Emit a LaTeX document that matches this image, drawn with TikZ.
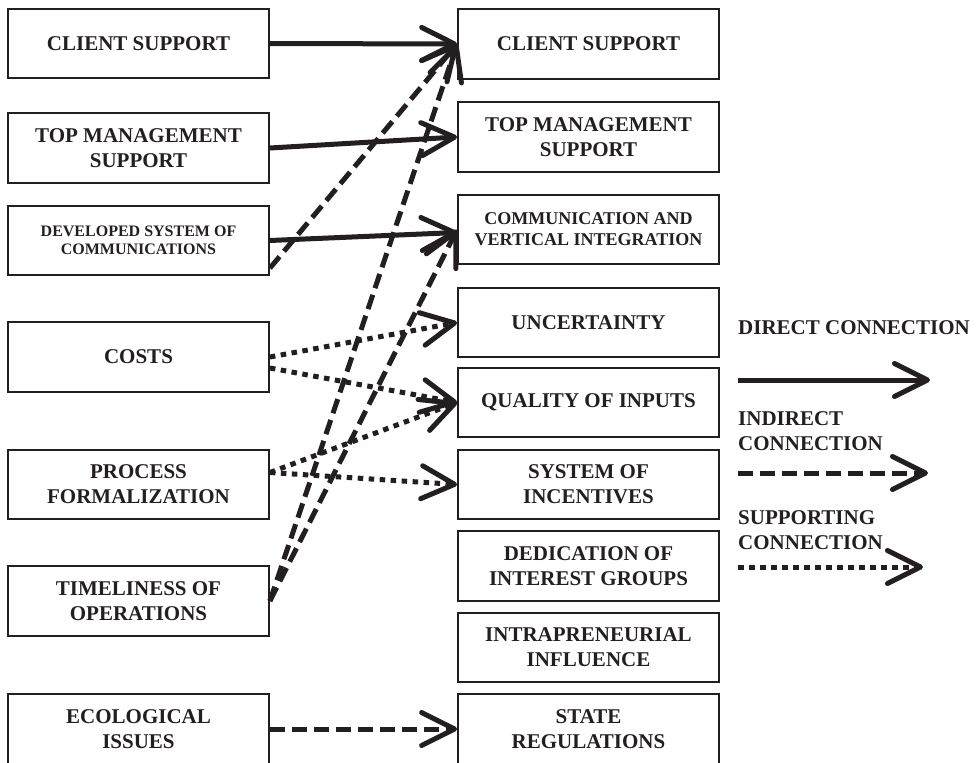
\documentclass[tikz,border=0pt]{standalone}
\usepackage{fontspec}
\setmainfont{Liberation Serif}
\usetikzlibrary{arrows.meta}
\definecolor{ink}{HTML}{231F20}
\begin{document}
\begin{tikzpicture}[x=1pt,y=-1pt,
  box/.style={draw=ink, line width=1.8pt, minimum width=261pt, minimum height=69.5pt,
    inner sep=0pt, align=center, text=ink, font=\bfseries\fontsize{21}{25}\selectfont},
  link/.style={draw=ink, line width=5pt,
    -{Straight Barb[length=33pt,width=33pt,line width=5pt,round]}},
  direct/.style={link},
  indirect/.style={link, dash pattern=on 15pt off 7pt},
  supporting/.style={link, dash pattern=on 5.5pt off 5.5pt},
  keytext/.style={anchor=west, align=left, inner sep=0pt, text=ink,
    font=\bfseries\fontsize{21}{25}\selectfont}]

\useasboundingbox (0,0) rectangle (978,763);
\clip (0,0) rectangle (978,763);

% factors (left column)
\node[box] (l1) at (138.5,43.5) {CLIENT SUPPORT};
\node[box] (l2) at (138.5,148) {TOP MANAGEMENT\\SUPPORT};
\node[box, font=\bfseries\fontsize{16}{18}\selectfont] (l3) at (138.5,240.5) {DEVELOPED SYSTEM OF\\COMMUNICATIONS};
\node[box] (l4) at (138.5,357) {COSTS};
\node[box] (l5) at (138.5,484.5) {PROCESS\\FORMALIZATION};
\node[box] (l6) at (138.5,601) {TIMELINESS OF\\OPERATIONS};
\node[box] (l7) at (138.5,729) {ECOLOGICAL\\ISSUES};

% outcomes (right column)
\node[box] (r1) at (588.5,44) {CLIENT SUPPORT};
\node[box] (r2) at (588.5,137) {TOP MANAGEMENT\\SUPPORT};
\node[box, font=\bfseries\fontsize{18}{21}\selectfont] (r3) at (588.5,229.5) {COMMUNICATION AND\\VERTICAL INTEGRATION};
\node[box] (r4) at (588.5,322.5) {UNCERTAINTY};
\node[box] (r5) at (588.5,402.5) {QUALITY OF INPUTS};
\node[box] (r6) at (588.5,484.5) {SYSTEM OF\\INCENTIVES};
\node[box] (r7) at (588.5,566) {DEDICATION OF\\INTEREST GROUPS};
\node[box] (r8) at (588.5,647.5) {INTRAPRENEURIAL\\INFLUENCE};
\node[box] (r9) at (588.5,729) {STATE\\REGULATIONS};

% direct connections
\draw[direct] (l1.east) -- (r1.west);
\draw[direct] (l2.east) -- (r2.west);
\draw[direct] (l3.east) -- ([yshift=-3pt]r3.west);

% indirect connections
\draw[indirect] ([yshift=8pt]l3.south east) -- (r1.west);
\draw[indirect] (l6.east) -- (r1.west);
\draw[indirect] (l6.east) -- (r3.west);
\draw[indirect] (l7.east) -- (r9.west);

% supporting connections
\draw[supporting] (l4.east) -- (r4.west);
\draw[supporting] ([yshift=-11pt]l4.east) -- (r5.west);
\draw[supporting] ([yshift=12pt]l5.east) -- (r5.west);
\draw[supporting] ([yshift=12pt]l5.east) -- (r6.west);

% legend
\node[keytext] (kd) at (738,328) {DIRECT CONNECTION};
\coordinate (kd1) at (738,380);
\coordinate (kd2) at (930,380);
\draw[direct] (kd1) -- (kd2);

\node[keytext] (ki) at (738,431.5) {INDIRECT\\CONNECTION};
\coordinate (ki1) at (738,473);
\coordinate (ki2) at (928,473);
\draw[indirect] (ki1) -- (ki2);

\node[keytext] (ks) at (738,530) {SUPPORTING\\CONNECTION};
\coordinate (ks1) at (738,567);
\coordinate (ks2) at (923,567);
\draw[supporting] (ks1) -- (ks2);
\end{tikzpicture}
\end{document}
